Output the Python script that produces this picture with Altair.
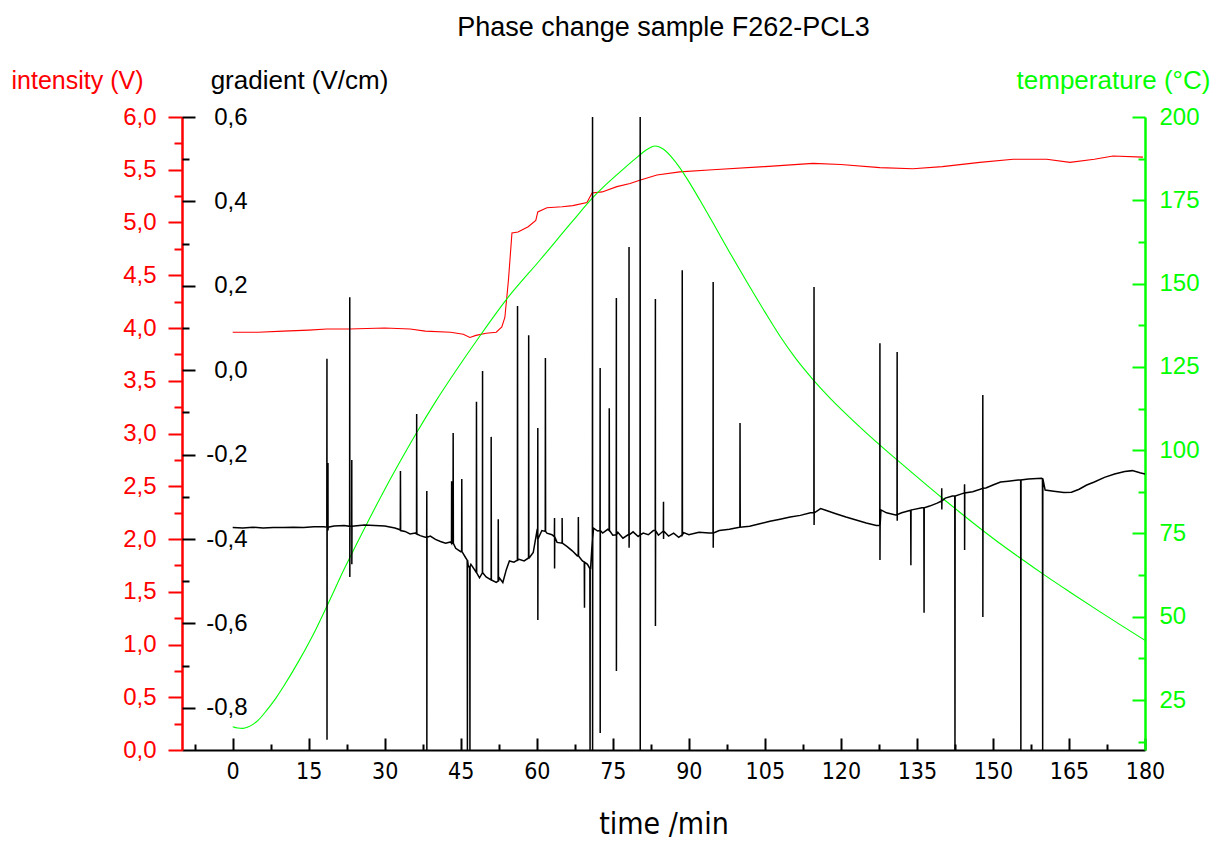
import altair as alt
import pandas as pd

TITLE = "Phase change sample F262-PCL3"

# ---- temperature (°C) vs time (min) ----
temp_t = [0, 1, 2, 3, 4, 5, 6.7, 8.5, 10, 13, 16.5, 19, 22, 26, 30, 33, 36.2, 40, 44.2, 48.6,
          54.1, 60.6, 67.1, 71, 74, 77, 80, 81.5, 82.5, 83.3, 84.2, 85, 86.8, 88.2, 90, 92.2,
          94.7, 98, 101.4, 105, 108, 111, 114.5, 118, 121.2, 125, 129, 131.6, 136, 140.1, 144,
          148, 152, 155.3, 160.2, 165, 171, 175, 180]
temp_v = [17.0, 16.6, 16.5, 16.9, 17.7, 18.9, 21.9, 25.5, 29.0, 36.6, 46.5, 54.5, 64.3, 76.5,
          88.2, 96.5, 105.0, 114.5, 124.2, 133.9, 145.4, 157.0, 168.8, 175.7, 180.2, 184.3,
          188.2, 190.0, 190.9, 191.3, 191.0, 190.3, 187.6, 184.8, 180.6, 175.0, 168.4, 159.5,
          150.6, 141.5, 134.2, 127.7, 121.2, 115.4, 110.6, 105.2, 99.8, 96.4, 90.7, 85.5,
          80.7, 75.9, 71.3, 67.7, 62.5, 57.6, 51.6, 47.7, 42.9]

# ---- intensity (V) vs time ----
int_t = [0, 5, 10, 15, 18.6, 23, 30, 35, 38, 43, 45.5, 46.8, 48, 50, 52, 53.1, 53.7, 54.4,
         55.1, 56.3, 58.3, 59.8, 60.2, 62, 65, 67.1, 69.9, 70.9, 72.9, 75.8, 78.4, 80.3, 83.7,
         88.2, 94.7, 105, 114.5, 120, 127.7, 134.2, 140, 147.4, 154, 160.6, 165.2, 170, 173.7,
         179.6]
int_v = [3.96, 3.96, 3.97, 3.98, 3.99, 3.99, 4.00, 3.99, 3.97, 3.96, 3.94, 3.91, 3.93, 3.95,
         3.96, 4.01, 4.10, 4.45, 4.90, 4.91, 4.96, 5.02, 5.10, 5.14, 5.15, 5.16, 5.19, 5.28,
         5.29, 5.34, 5.37, 5.40, 5.45, 5.48, 5.50, 5.53, 5.56, 5.55, 5.52, 5.51, 5.53, 5.57,
         5.60, 5.60, 5.57, 5.60, 5.63, 5.62]

# ---- gradient (V/cm): baseline trace ----
grad_t = [0, 2, 4, 6, 8, 10, 12, 14, 16, 18, 20, 22, 24, 26, 28, 30, 32, 33, 34, 35, 36, 37,
          38, 39, 40, 41, 42, 43, 44, 45, 46, 46.5, 47, 48, 48.7, 49.3, 50, 51, 52, 52.6, 53.3,
          54, 54.6, 55.5, 56.5, 57.5, 58.5, 59.3, 60.1, 61, 62, 63, 64, 65, 66, 67, 68, 69, 70,
          70.6, 71.2, 72, 73, 74, 75, 76, 77, 78, 79, 80, 81, 82, 83, 84, 85, 86, 87, 88, 89,
          90, 92, 94, 96, 98, 100, 102, 104, 106, 108, 110, 112, 114, 116, 117, 119, 121, 123,
          125, 127, 127.9, 129, 130.8, 132, 134, 136, 137.5, 139, 140.6, 142, 143.8, 146,
          148.6, 150, 151.5, 153, 155, 157, 159.6, 160.3, 162, 164, 165.5, 167, 168.5, 170,
          172, 174, 176, 177.5, 179, 180]
grad_v = [-0.373, -0.374, -0.372, -0.374, -0.373, -0.373, -0.372, -0.373, -0.371, -0.371,
          -0.369, -0.368, -0.369, -0.367, -0.368, -0.369, -0.374, -0.378, -0.382, -0.388,
          -0.386, -0.392, -0.396, -0.393, -0.401, -0.406, -0.410, -0.407, -0.422, -0.430,
          -0.445, -0.466, -0.460, -0.478, -0.492, -0.480, -0.490, -0.496, -0.503, -0.492,
          -0.503, -0.472, -0.452, -0.455, -0.448, -0.452, -0.445, -0.432, -0.376, -0.380,
          -0.386, -0.390, -0.408, -0.405, -0.418, -0.428, -0.440, -0.452, -0.460, -0.472,
          -0.374, -0.381, -0.386, -0.377, -0.391, -0.384, -0.398, -0.390, -0.383, -0.394,
          -0.386, -0.390, -0.380, -0.391, -0.382, -0.393, -0.386, -0.396, -0.385, -0.390,
          -0.384, -0.386, -0.380, -0.377, -0.372, -0.370, -0.364, -0.358, -0.353, -0.348,
          -0.344, -0.338, -0.328, -0.332, -0.340, -0.348, -0.355, -0.362, -0.368, -0.331,
          -0.338, -0.343, -0.338, -0.331, -0.326, -0.322, -0.315, -0.303, -0.298, -0.293,
          -0.288, -0.279, -0.272, -0.265, -0.263, -0.260, -0.258, -0.256, -0.284, -0.287,
          -0.290, -0.289, -0.282, -0.272, -0.265, -0.254, -0.246, -0.240, -0.238, -0.243,
          -0.246]

# ---- gradient spikes: time, local level, peak up (None = none), peak down (None = none) ----
spike_t = [18.6, 18.8, 23.1, 23.5, 33.1, 36.3, 38.3, 43.2, 43.5, 45.2, 46.3, 46.8, 48.1, 49.3,
           51.0, 52.4, 56.2, 58.4, 60.2, 61.7, 63.5, 65.0, 68.2, 69.4, 70.5, 71.0, 72.5, 74.3,
           75.7, 78.2, 80.4, 83.4, 85.0, 88.7, 94.8, 100.1, 114.7, 127.7, 131.1, 133.8, 136.4,
           139.9, 142.5, 144.4, 148.0, 155.5, 159.8]
spike_base = [-0.372, -0.372, -0.370, -0.370, -0.380, -0.388, -0.396, -0.410, -0.410, -0.430,
              -0.450, -0.465, -0.480, -0.480, -0.497, -0.500, -0.450, -0.445, -0.400, -0.382,
              -0.395, -0.410, -0.440, -0.455, -0.470, -0.400, -0.380, -0.380, -0.390, -0.390,
              -0.390, -0.380, -0.381, -0.390, -0.386, -0.372, -0.338, -0.368, -0.342, -0.332,
              -0.326, -0.310, -0.298, -0.291, -0.280, -0.260, -0.257]
spike_up = [0.027, -0.220, 0.173, -0.213, -0.239, -0.104, -0.286, -0.263, -0.149, -0.258, None,
            None, -0.075, -0.002, -0.158, -0.353, 0.152, 0.083, -0.137, 0.029, -0.350, -0.350,
            -0.348, None, None, 0.600, 0.005, -0.090, 0.171, 0.292, 0.600, 0.169, -0.312, 0.237,
            0.209, -0.125, 0.197, 0.064, 0.043, None, None, -0.280, None, -0.270, -0.059, None,
            None]
spike_down = [-0.876, -0.380, -0.490, -0.460, None, None, -0.900, None, None, None, -0.900,
              -0.900, None, None, None, None, None, None, -0.592, None, -0.470, None, None,
              -0.563, -0.900, -0.900, -0.860, None, -0.713, -0.421, -0.900, -0.606, -0.400, None,
              -0.421, None, -0.367, -0.450, -0.357, -0.462, -0.575, -0.330, -0.900, -0.426,
              -0.585, -0.900, -0.900]

# ---- axis ticks ----
x_major = [0, 15, 30, 45, 60, 75, 90, 105, 120, 135, 150, 165, 180]
x_minor = [-7.5, 7.5, 22.5, 37.5, 52.5, 67.5, 82.5, 97.5, 112.5, 127.5, 142.5, 157.5, 172.5]
int_major = [0, 0.5, 1, 1.5, 2, 2.5, 3, 3.5, 4, 4.5, 5, 5.5, 6]
int_minor = [0.25, 0.75, 1.25, 1.75, 2.25, 2.75, 3.25, 3.75, 4.25, 4.75, 5.25, 5.75]
grad_major = [-0.8, -0.6, -0.4, -0.2, 0, 0.2, 0.4, 0.6]
grad_minor = [-0.7, -0.5, -0.3, -0.1, 0.1, 0.3, 0.5]
temp_major = [25, 50, 75, 100, 125, 150, 175, 200]
temp_minor = [12.5, 37.5, 62.5, 87.5, 112.5, 137.5, 162.5, 187.5]

# ---- tables ----
df_temp = pd.DataFrame({"t": temp_t, "v": temp_v})
df_int = pd.DataFrame({"t": int_t, "v": int_v})
rows = list(zip(grad_t, grad_v))
for ts, base, up, dn in zip(spike_t, spike_base, spike_up, spike_down):
    rows.append((ts - 0.03, base))
    if up is not None:
        rows.append((ts, up))
    if dn is not None:
        rows.append((ts + 0.01, dn))
    rows.append((ts + 0.04, base))
df_grad = pd.DataFrame(rows, columns=["t", "v"]).sort_values("t").reset_index(drop=True)

W, H = 963, 633
FONT = "Liberation Sans"
NARROW = "Liberation Sans Narrow, DejaVu Sans Condensed, Liberation Sans"
RED, GREEN = "#ff0000", "#00ff00"

xscale = alt.Scale(domain=[-10, 180], nice=False, zero=False)
s_int = alt.Scale(domain=[0, 6], nice=False, zero=False)
s_grad = alt.Scale(domain=[-0.9, 0.6], nice=False, zero=False)
s_temp = alt.Scale(domain=[10, 200], nice=False, zero=False)

comma1 = "replace(format(datum.value, '.1f'), '.', ',')"
comma1s = "(datum.value < 0 ? '-' : '') + replace(format(abs(datum.value), '.1f'), '.', ',')"

ax_x_labels = alt.Axis(orient="bottom", values=x_major, ticks=False, tickSize=0, labelPadding=10,
                       labelFontSize=23, labelFont=NARROW, labelColor="black", labelFlush=False,
                       labelOverlap=False, domain=True, domainColor="black", domainWidth=2,
                       grid=False, title="time /min", titleFont=NARROW, titleFontSize=30,
                       titleFontWeight="normal", titleColor="black", titleY=74,
                       titleBaseline="middle")
ax_x_major = alt.Axis(orient="top", offset=-H, values=x_major, ticks=True, tickSize=12,
                      tickWidth=2, tickColor="black", labels=False, domain=False, grid=False,
                      title=None)
ax_x_minor = alt.Axis(orient="top", offset=-H, values=x_minor, ticks=True, tickSize=6,
                      tickWidth=2, tickColor="black", labels=False, domain=False, grid=False,
                      title=None)

ax_int = alt.Axis(orient="left", values=int_major, tickSize=14, tickWidth=2, tickColor=RED,
                  domain=True, domainColor=RED, domainWidth=2.5, labelColor=RED,
                  labelFontSize=24, labelFont=FONT, labelPadding=12, labelExpr=comma1,
                  labelOverlap=False, labelFlush=False, grid=False,
                  title="intensity (V)", titleColor=RED, titleFont=FONT, titleFontSize=25,
                  titleFontWeight="normal", titleAngle=0, titleAlign="center",
                  titleBaseline="middle", titleX=-105, titleY=-37)
ax_int_minor = alt.Axis(orient="left", values=int_minor, tickSize=8, tickWidth=2,
                        tickColor=RED, labels=False, domain=False, grid=False, title=None)

ax_grad = alt.Axis(orient="right", offset=-W, values=grad_major, tickSize=13, tickWidth=2,
                   tickColor="black", domain=False, labelColor="black", labelFontSize=24,
                   labelFont=FONT, labelAlign="right", labelPadding=52, labelExpr=comma1s,
                   labelOverlap=False, labelFlush=False, grid=False,
                   title="gradient (V/cm)", titleColor="black", titleFont=FONT,
                   titleFontSize=26, titleFontWeight="normal", titleAngle=0,
                   titleAlign="center", titleBaseline="middle", titleX=117, titleY=-37)
ax_grad_minor = alt.Axis(orient="right", offset=-W, values=grad_minor, tickSize=7,
                         tickWidth=2, tickColor="black", labels=False, domain=False,
                         grid=False, title=None)

ax_temp = alt.Axis(orient="right", values=temp_major, ticks=False, tickSize=0, domain=True,
                   domainColor=GREEN, domainWidth=2.5, labelColor=GREEN, labelFontSize=24,
                   labelFont=FONT, labelPadding=14, labelOverlap=False, labelFlush=False,
                   grid=False, title="temperature (°C)", titleColor=GREEN, titleFont=FONT,
                   titleFontSize=26, titleFontWeight="normal", titleAngle=0,
                   titleAlign="center", titleBaseline="middle", titleX=-32, titleY=-37)
ax_temp_major = alt.Axis(orient="left", offset=-W, values=temp_major, tickSize=13, tickWidth=2,
                         tickColor=GREEN, labels=False, domain=False, grid=False, title=None)
ax_temp_minor = alt.Axis(orient="left", offset=-W, values=temp_minor, tickSize=7, tickWidth=2,
                         tickColor=GREEN, labels=False, domain=False, grid=False, title=None)


def X(axis):
    return alt.X("t:Q", scale=xscale, axis=axis)


red = alt.Chart(df_int).mark_line(color=RED, strokeWidth=1.1, clip=True).encode(
    x=X(ax_x_labels), y=alt.Y("v:Q", scale=s_int, axis=ax_int))
red_minor = alt.Chart(df_int).mark_line(strokeOpacity=0).encode(
    x=X(ax_x_major), y=alt.Y("v:Q", scale=s_int, axis=ax_int_minor))
green = alt.Chart(df_temp).mark_line(color=GREEN, strokeWidth=1.1, clip=True,
                                     interpolate="monotone").encode(
    x=X(ax_x_minor), y=alt.Y("v:Q", scale=s_temp, axis=ax_temp))
green_major = alt.Chart(df_temp).mark_line(strokeOpacity=0).encode(
    x=X(None), y=alt.Y("v:Q", scale=s_temp, axis=ax_temp_major))
green_minor = alt.Chart(df_temp).mark_line(strokeOpacity=0).encode(
    x=X(None), y=alt.Y("v:Q", scale=s_temp, axis=ax_temp_minor))
black = alt.Chart(df_grad).mark_line(color="black", strokeWidth=1.5, clip=True).encode(
    x=X(None), y=alt.Y("v:Q", scale=s_grad, axis=ax_grad))
black_minor = alt.Chart(df_grad).mark_line(strokeOpacity=0).encode(
    x=X(None), y=alt.Y("v:Q", scale=s_grad, axis=ax_grad_minor))

chart = alt.layer(
    red, red_minor, green, green_major, green_minor, black, black_minor
).resolve_scale(y="independent").resolve_axis(x="independent", y="independent").properties(
    width=W, height=H,
    padding={"left": 182, "top": 117, "right": 84, "bottom": 91},
    autosize=alt.AutoSizeParams(type="none"),
    title=alt.TitleParams(TITLE, font=FONT, fontSize=27, fontWeight="normal", color="black",
                          anchor="middle", offset=25),
).configure_view(stroke="transparent")

chart.save("out.html", embed_options={"renderer": "svg", "actions": False})
